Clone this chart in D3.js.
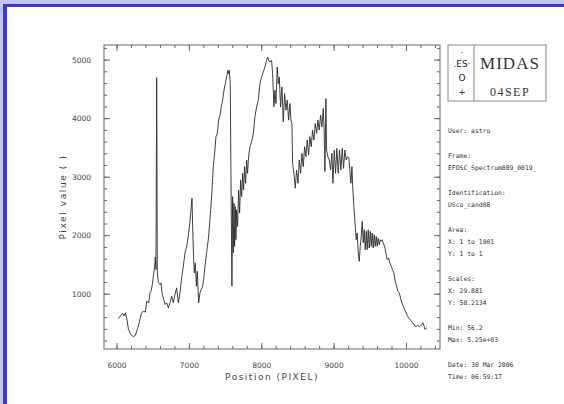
<!DOCTYPE html>
<html>
<head>
<meta charset="utf-8">
<script src="https://cdn.jsdelivr.net/npm/d3@7"></script>
<style>
  body { margin: 0; background: #fff; }
  svg { display: block; }
</style>
</head>
<body>
<div id="chart"></div>
<script>
// spectrum (position in pixel units, value)
const wavelength = [
  6025,6057,6085,6103,6122,6140,6163,6196,6232,6260,6288,6315,6343,6370,6398,6417,6444,6463,6481,6495,
  6509,6527,6536,6545,6555,6564,6578,6601,6615,6628,6647,6670,6693,6716,6739,6762,6785,6808,6831,6854,
  6877,6900,6923,6946,6969,6992,7015,7029,7043,7052,7066,7075,7089,7103,7116,7135,7153,7172,7190,7204,
  7222,7245,7268,7291,7314,7337,7360,7374,7393,7411,7430,7448,7466,7485,7503,7521,7540,7549,7558,7572,
  7581,7595,7604,7614,7623,7632,7641,7650,7660,7673,7687,7701,7715,7729,7743,7756,7770,7784,7798,7811,
  7825,7844,7867,7890,7913,7936,7959,7982,8005,8028,8051,8074,8088,8105,8120,8143,8157,8175,8189,8203,
  8221,8235,8249,8267,8286,8304,8323,8341,8359,8378,8396,8410,8424,8433,8451,8470,8488,8507,8525,8544,
  8562,8580,8599,8617,8636,8654,8672,8691,8709,8728,8746,8765,8783,8801,8820,8838,8857,8870,8880,8893,
  8903,8921,8940,8958,8976,8990,9009,9027,9045,9064,9082,9101,9119,9137,9156,9174,9193,9211,9225,9239,
  9253,9266,9280,9299,9312,9326,9340,9354,9368,9381,9395,9409,9423,9437,9451,9464,9478,9492,9506,9520,
  9533,9547,9561,9575,9589,9602,9616,9630,9644,9658,9671,9685,9704,9722,9741,9759,9777,9796,9814,9833,
  9851,9870,9888,9906,9925,9943,9962,9980,9998,10017,10035,10054,10072,10091,10109,10127,10146,10164,10183,10201,
  10219,10233,10247,10261,10290
];
const pixelValue = [
  573,630,664,619,675,590,403,306,267,290,391,516,664,704,687,874,846,1016,1061,1158,
  1300,1470,1629,1413,4693,1356,1197,1158,1186,1016,931,817,846,760,846,959,846,987,1101,846,
  1016,1271,1470,1697,1810,1980,2236,2434,2633,2151,1583,1356,1526,1129,1385,846,1016,1073,1129,1243,
  1470,1697,1923,2264,2661,3172,3456,3683,3739,3966,4051,4193,4307,4477,4590,4704,4817,4761,4817,4590,
  3058,1129,2661,1697,2548,1810,2491,1923,2434,2151,2775,2378,2945,2661,3058,2775,3172,2888,3285,3058,
  3342,3512,3598,3739,4023,4193,4307,4590,4704,4789,4874,4988,5044,4980,4959,4988,4761,4193,4477,4250,
  4874,4590,4704,4193,4534,3938,4420,4136,4307,3966,4250,3966,3909,3229,3058,2803,3115,2888,3285,3058,
  3399,3172,3512,3342,3626,3370,3683,3512,3796,3626,3909,3739,3966,3796,4051,3853,4165,3739,3087,4335,
  3456,3342,3285,3115,3399,2888,3456,3058,3484,3058,3456,3115,3484,3143,3456,3285,3342,3314,3087,2888,
  3172,2775,2491,2151,1923,2037,1697,1555,1810,1980,2236,1867,2094,1753,2066,1753,2094,1782,2066,1810,
  2037,1782,2009,1810,1980,1810,1952,1838,1923,1895,1923,1867,1810,1697,1583,1612,1526,1470,1413,1356,
  1214,1129,1044,1016,931,846,789,732,687,630,590,562,534,505,477,437,449,460,437,449,
  477,505,460,392,420
];

const xMajor = [6000, 7000, 8000, 9000, 10000];
const yMajor = [1000, 2000, 3000, 4000, 5000];
const xMinor = d3.range(6000, 10401, 200);
const yMinor = d3.range(200, 5201, 200);

const infoGroups = [
  ["User: astro"],
  ["Frame:", "EFOSC_Spectrum089_0019_"],
  ["Identification:", "USco_cand08"],
  ["Area:", "X: 1 to 1001", "Y: 1 to 1"],
  ["Scales:", "X: 29.881", "Y: 58.2134"],
  ["Min: 56.2", "Max: 5.25e+03"],
  ["Date: 30 Mar 2006", "Time: 06:59:17"]
];

const W = 564, H = 404;
const plot = { left: 104, top: 45, right: 440, bottom: 349 };

const svg = d3.select("#chart").append("svg")
  .attr("width", W).attr("height", H);

svg.append("rect").attr("width", W).attr("height", H).attr("fill", "#fff");

// blue window edge (top and left)
svg.append("rect").attr("x", 0).attr("y", 0).attr("width", W).attr("height", 4).attr("fill", "#c3c3f7");
svg.append("rect").attr("x", 0).attr("y", 0).attr("width", 3).attr("height", H).attr("fill", "#c3c3f7");
svg.append("rect").attr("x", 3).attr("y", 4).attr("width", W - 3).attr("height", 3).attr("fill", "#3a3ad0");
svg.append("rect").attr("x", 3).attr("y", 4).attr("width", 4).attr("height", H - 4).attr("fill", "#3a3ad0");

const x = d3.scaleLinear().domain([5827, 10470]).range([plot.left, plot.right]);
const y = d3.scaleLinear().domain([56.2, 5250]).range([plot.bottom, plot.top]);

const tickColor = "#666";
function styleAxis(g) {
  g.select(".domain").remove();
  g.selectAll("line").attr("stroke", tickColor);
  g.selectAll("text").attr("fill", "#444")
    .attr("font-family", "DejaVu Sans").attr("font-size", 7.5);
}

// minor and major ticks on all four sides, pointing inward
svg.append("g").attr("transform", `translate(0,${plot.bottom})`)
  .call(d3.axisBottom(x).tickValues(xMinor).tickSize(-3).tickFormat("")).call(styleAxis);
svg.append("g").attr("transform", `translate(0,${plot.top})`)
  .call(d3.axisTop(x).tickValues(xMinor).tickSize(-3).tickFormat("")).call(styleAxis);
svg.append("g").attr("transform", `translate(${plot.left},0)`)
  .call(d3.axisLeft(y).tickValues(yMinor).tickSize(-3).tickFormat("")).call(styleAxis);
svg.append("g").attr("transform", `translate(${plot.right},0)`)
  .call(d3.axisRight(y).tickValues(yMinor).tickSize(-3).tickFormat("")).call(styleAxis);

svg.append("g").attr("transform", `translate(0,${plot.bottom})`)
  .call(d3.axisBottom(x).tickValues(xMajor).tickSize(-6).tickPadding(14).tickFormat(d3.format("d")))
  .call(styleAxis);
svg.append("g").attr("transform", `translate(0,${plot.top})`)
  .call(d3.axisTop(x).tickValues(xMajor).tickSize(-6).tickFormat("")).call(styleAxis);
svg.append("g").attr("transform", `translate(${plot.left},0)`)
  .call(d3.axisLeft(y).tickValues(yMajor).tickSize(-6).tickPadding(13).tickFormat(d3.format("d")))
  .call(styleAxis);
svg.append("g").attr("transform", `translate(${plot.right},0)`)
  .call(d3.axisRight(y).tickValues(yMajor).tickSize(-6).tickFormat("")).call(styleAxis);

svg.append("rect")
  .attr("x", plot.left).attr("y", plot.top)
  .attr("width", plot.right - plot.left).attr("height", plot.bottom - plot.top)
  .attr("fill", "none").attr("stroke", tickColor);

const pts = wavelength.map((w, i) => [w, pixelValue[i]]);
svg.append("path")
  .datum(pts)
  .attr("fill", "none")
  .attr("stroke", "#2a2a2a")
  .attr("stroke-width", 0.9)
  .attr("d", d3.line().x(d => x(d[0])).y(d => y(d[1])));

// axis titles
svg.append("text")
  .attr("x", (plot.left + plot.right) / 2).attr("y", 377)
  .attr("text-anchor", "middle").attr("dominant-baseline", "central")
  .attr("font-family", "DejaVu Sans").attr("font-size", 9)
  .attr("letter-spacing", 1.5).attr("fill", "#444")
  .text("Position (PIXEL)");
svg.append("text")
  .attr("transform", `translate(63,${(plot.top + plot.bottom) / 2}) rotate(-90)`)
  .attr("text-anchor", "middle").attr("dominant-baseline", "central")
  .attr("font-family", "DejaVu Sans").attr("font-size", 9)
  .attr("letter-spacing", 1.6).attr("fill", "#444")
  .text("Pixel value ( )");

// MIDAS logo box
const logo = svg.append("g");
logo.append("rect").attr("x", 448).attr("y", 45).attr("width", 98).attr("height", 56)
  .attr("fill", "#fff").attr("stroke", "#888");
logo.append("line").attr("x1", 474).attr("x2", 474).attr("y1", 45).attr("y2", 101).attr("stroke", "#888");
logo.append("text").attr("x", 510).attr("y", 63)
  .attr("text-anchor", "middle").attr("dominant-baseline", "central")
  .attr("font-family", "Liberation Serif").attr("font-size", 17).attr("letter-spacing", 1)
  .attr("fill", "#333").text("MIDAS");
logo.append("text").attr("x", 510).attr("y", 92)
  .attr("text-anchor", "middle").attr("dominant-baseline", "central")
  .attr("font-family", "Liberation Serif").attr("font-size", 12).attr("letter-spacing", 1.5)
  .attr("fill", "#333").text("04SEP");
[["\u00b7", 53], [".ES\u00b7", 64], ["O", 78], ["+", 92]].forEach(([t, yy]) => {
  logo.append("text").attr("x", 462).attr("y", yy)
    .attr("text-anchor", "middle").attr("dominant-baseline", "central")
    .attr("font-family", "DejaVu Sans").attr("font-size", 9)
    .attr("fill", "#222").text(t);
});

// info panel
const info = svg.append("g").attr("font-family", "DejaVu Sans Mono").attr("font-size", 6.4).attr("fill", "#333");
let yy = 131;
infoGroups.forEach((grp, gi) => {
  if (gi > 0) yy += 13;
  grp.forEach((line, li) => {
    if (gi > 0 || li > 0) yy += 12;
    info.append("text").attr("x", 448).attr("y", yy)
      .attr("dominant-baseline", "central").text(line);
  });
});
</script>
</body>
</html>
